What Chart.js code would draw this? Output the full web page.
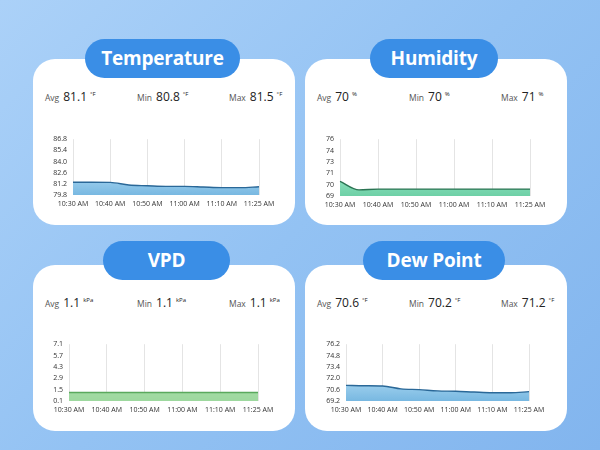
<!DOCTYPE html>
<html lang="en">
<head>
  <meta charset="UTF-8" />
  <title>Sensor Dashboard</title>
  <script src="https://cdn.jsdelivr.net/npm/chart.js"></script>
  <style>
    html, body {
      margin: 0;
      padding: 0;
    }
    body {
      width: 600px;
      height: 450px;
      position: relative;
      overflow: hidden;
      background: linear-gradient(135deg, #abd1f8 0%, #93c2f3 50%, #82b5ee 100%);
      font-family: "Open Sans", Arial, sans-serif;
    }
    .card {
      position: absolute;
      width: 262px;
      height: 166px;
      background: #fff;
      border-radius: 22px;
    }
    .pill {
      position: absolute;
      height: 39px;
      line-height: 38px;
      border-radius: 20px;
      background: #3a8ee6;
      color: #fff;
      font-weight: 700;
      font-size: 19px;
      text-align: center;
      letter-spacing: -0.2px;
    }
    .stat {
      position: absolute;
      white-space: nowrap;
      color: #222;
    }
    .stat .lbl {
      font-size: 8.5px;
      color: #555;
      margin-right: 4px;
    }
    .stat .val {
      font-size: 12px;
    }
    .stat sup {
      font-size: 6px;
      margin-left: 3px;
      vertical-align: 5px;
    }
    canvas {
      position: absolute;
    }
  </style>
</head>
<body>
  <script>
    // x axis labels and sample values (11 samples per panel, one between each label)
    const timeLabels = ['10:30 AM', '10:40 AM', '10:50 AM', '11:00 AM', '11:10 AM', '11:25 AM'];

    const tempTicks = ['79.8', '81.2', '82.6', '84.0', '85.4', '86.8'];
    const humTicks = ['69', '70', '71', '73', '74', '76'];
    const vpdTicks = ['0.1', '1.5', '2.9', '4.3', '5.7', '7.1'];
    const dewTicks = ['69.2', '70.6', '72.0', '73.4', '74.8', '76.2'];

    const tempValues = [81.4, 81.4, 81.38, 81.05, 80.96, 80.88, 80.88, 80.8, 80.72, 80.72, 80.84];
    const humValues = [70.8, 69.75, 69.85, 69.85, 69.85, 69.85, 69.85, 69.85, 69.85, 69.85, 69.85];
    const vpdValues = [1.15, 1.15, 1.15, 1.15, 1.15, 1.15, 1.15, 1.15, 1.15, 1.15, 1.15];
    const dewValues = [71.13, 71.08, 71.05, 70.7, 70.6, 70.45, 70.4, 70.3, 70.22, 70.22, 70.35];

    const tempStats = ['81.1', '80.8', '81.5'];
    const humStats = ['70', '70', '71'];
    const vpdStats = ['1.1', '1.1', '1.1'];
    const dewStats = ['70.6', '70.2', '71.2'];

    const panels = [
      { title: 'Temperature', unit: '°F', stats: tempStats, ticks: tempTicks, values: tempValues,
        card: [33, 59], pill: [85, 39, 155],
        plot: [73, 137, 259, 195],
        line: '#2a6898', fillTop: '#a8d6f1', fillBottom: '#78b8e1' },
      { title: 'Humidity', unit: '%', stats: humStats, ticks: humTicks, values: humValues,
        card: [305, 59], pill: [370, 39, 128],
        plot: [340, 137, 530, 196],
        line: '#2b7453', fillTop: '#95e4c3', fillBottom: '#6ed0a6' },
      { title: 'VPD', unit: 'kPa', stats: vpdStats, ticks: vpdTicks, values: vpdValues,
        card: [33, 265], pill: [103, 241, 127],
        plot: [69, 342, 258, 401],
        line: '#5aa95d', fillTop: '#aadfab', fillBottom: '#9dd89e' },
      { title: 'Dew Point', unit: '°F', stats: dewStats, ticks: dewTicks, values: dewValues,
        card: [305, 265], pill: [363, 241, 142],
        plot: [346, 342, 529, 401],
        line: '#2a6898', fillTop: '#a8d6f1', fillBottom: '#78b8e1' }
    ];

    // category labels: a time label on every other sample
    const xLabels = [];
    timeLabels.forEach((t, i) => {
      xLabels.push(t);
      if (i < timeLabels.length - 1) xLabels.push('');
    });

    function el(tag, cls, parent) {
      const e = document.createElement(tag);
      if (cls) e.className = cls;
      (parent || document.body).appendChild(e);
      return e;
    }

    panels.forEach(p => {
      const [cx, cy] = p.card;
      const card = el('div', 'card');
      card.style.left = cx + 'px';
      card.style.top = cy + 'px';

      const pill = el('div', 'pill');
      pill.textContent = p.title;
      pill.style.left = p.pill[0] + 'px';
      pill.style.top = p.pill[1] + 'px';
      pill.style.width = p.pill[2] + 'px';

      ['Avg', 'Min', 'Max'].forEach((name, i) => {
        const s = el('div', 'stat');
        s.innerHTML = '<span class="lbl">' + name + '</span><span class="val">' + p.stats[i] +
          '</span><sup>' + p.unit + '</sup>';
        s.style.left = (cx + 12 + i * 92) + 'px';
        s.style.top = (cy + 25) + 'px';
      });

      const [pl, pt, pr, pb] = p.plot;
      const canvas = el('canvas');
      const cTop = pt - 8;
      const cHeight = pb - cTop + 18;
      canvas.width = 262;
      canvas.height = cHeight;
      canvas.style.left = cx + 'px';
      canvas.style.top = cTop + 'px';

      const yMin = parseFloat(p.ticks[0]);
      const yMax = parseFloat(p.ticks[p.ticks.length - 1]);

      new Chart(canvas.getContext('2d'), {
        type: 'line',
        data: {
          labels: xLabels,
          datasets: [{
            data: p.values,
            borderColor: p.line,
            borderWidth: 1.4,
            pointRadius: 0,
            cubicInterpolationMode: 'monotone',
            fill: 'start',
            backgroundColor: ctx => {
              const area = ctx.chart.chartArea;
              if (!area) return p.fillBottom;
              const g = ctx.chart.ctx.createLinearGradient(0, area.top + area.height * 0.6, 0, area.bottom);
              g.addColorStop(0, p.fillTop);
              g.addColorStop(1, p.fillBottom);
              return g;
            }
          }]
        },
        options: {
          responsive: false,
          animation: false,
          layout: {
            padding: { top: 8, bottom: 0, left: 0, right: cx + 262 - pr }
          },
          plugins: { legend: { display: false }, tooltip: { enabled: false } },
          scales: {
            x: {
              border: { display: false },
              grid: {
                drawTicks: false,
                color: ctx => (ctx.index % 2 === 0 ? '#e4e4e4' : 'rgba(0,0,0,0)')
              },
              ticks: {
                autoSkip: false,
                maxRotation: 0,
                padding: 5,
                color: '#333',
                font: { size: 7, family: 'Open Sans' }
              },
              afterFit: axis => { axis.height = 18; }
            },
            y: {
              min: yMin,
              max: yMax,
              border: { display: false },
              grid: { display: false, drawTicks: false },
              ticks: {
                autoSkip: false,
                stepSize: (yMax - yMin) / 5,
                padding: 6,
                color: '#333',
                font: { size: 7, family: 'Open Sans' },
                callback: (v, i) => p.ticks[i]
              },
              afterFit: axis => { axis.width = pl - cx; }
            }
          }
        }
      });
    });
  </script>
</body>
</html>
